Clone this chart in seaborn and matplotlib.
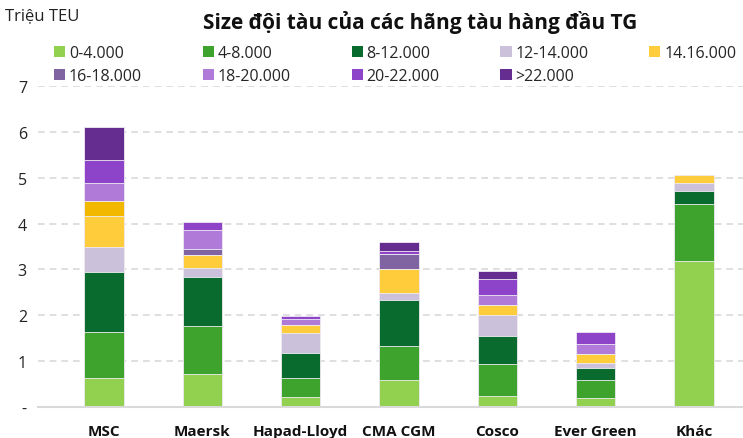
import matplotlib
matplotlib.use("Agg")
import matplotlib.pyplot as plt
import seaborn as sns
import pandas as pd
import numpy as np
from matplotlib.patches import Patch

companies = ["MSC", "Maersk", "Hapad-Lloyd", "CMA CGM", "Cosco", "Ever Green", "Khác"]
series_names = ["0-4.000", "4-8.000", "8-12.000", "12-14.000", "14.16.000",
                "16-18.000", "18-20.000", "20-22.000", ">22.000"]

s_0_4 = [0.63, 0.72, 0.22, 0.59, 0.24, 0.19, 3.18]
s_4_8 = [1.01, 1.04, 0.41, 0.74, 0.70, 0.40, 1.24]
s_8_12 = [1.31, 1.08, 0.55, 1.00, 0.61, 0.25, 0.28]
s_12_14 = [0.55, 0.19, 0.43, 0.16, 0.46, 0.12, 0.18]
s_14_16 = [0.67, 0.29, 0.18, 0.53, 0.21, 0.20, 0.17]
s_14_16_hl = [0.32, 0.0, 0.0, 0.0, 0.0, 0.0, 0.0]  # highlighted part (MSC)
s_16_18 = [0.0, 0.13, 0.0, 0.31, 0.0, 0.0, 0.0]
s_18_20 = [0.39, 0.40, 0.13, 0.0, 0.22, 0.21, 0.0]
s_20_22 = [0.51, 0.19, 0.06, 0.07, 0.35, 0.27, 0.0]
s_22p = [0.71, 0.0, 0.0, 0.19, 0.17, 0.0, 0.0]

stack = [
    ("0-4.000", s_0_4, "#92D050"),
    ("4-8.000", s_4_8, "#3EA32C"),
    ("8-12.000", s_8_12, "#0A6B2E"),
    ("12-14.000", s_12_14, "#CCC1DA"),
    ("14.16.000", s_14_16, "#FFCD3C"),
    ("_hl", s_14_16_hl, "#F2B800"),
    ("16-18.000", s_16_18, "#8064A2"),
    ("18-20.000", s_18_20, "#B07AD8"),
    ("20-22.000", s_20_22, "#8E44C8"),
    (">22.000", s_22p, "#662D91"),
]

sns.set_theme(style="white")
plt.rcParams["font.family"] = ["Open Sans", "DejaVu Sans"]

fig = plt.figure(figsize=(7.43, 4.39), dpi=100)
ax = fig.add_axes([38 / 743, 31 / 439, 1 - 38 / 743, (408 - 87) / 439])

cum = np.zeros(len(companies))
cums = []
for name, vals, col in stack:
    cum = cum + np.array(vals)
    cums.append((name, cum.copy(), col))

# draw from top cumulative down so lower segments overlay
for name, cvals, col in reversed(cums):
    df = pd.DataFrame({"company": companies, "value": cvals})
    sns.barplot(data=df, x="company", y="value", color=col, ax=ax,
                width=0.4, saturation=1, edgecolor="#F0ECF4", linewidth=0.6,
                zorder=3)

ax.set_ylim(0, 7)
ax.set_xlim(-0.67, 6.5)
ax.set_yticks(range(0, 8))
ax.set_yticklabels(["-"] + [str(i) for i in range(1, 8)], fontsize=11.5, color="#222222")
ax.set_xticks(range(len(companies)))
ax.set_xticklabels(companies, fontsize=11, fontweight="bold", color="#111111")
ax.tick_params(axis="y", length=0, pad=8)
ax.tick_params(axis="x", length=0, pad=12)
ax.set_xlabel("")
ax.set_ylabel("")
for sp in ["top", "right", "left"]:
    ax.spines[sp].set_visible(False)
ax.spines["bottom"].set_color("#D9D9D9")
ax.spines["bottom"].set_linewidth(1.5)
ax.spines["bottom"].set_zorder(4)
for y in range(1, 8):
    ax.axhline(y, color="#D9D9D9", linestyle=(0, (4, 3)), linewidth=1.2, zorder=1)

fig.text(5 / 743, 1 - 16 / 439, "Triệu TEU", fontsize=12, va="center", ha="left", color="#222222")
fig.text(420 / 743, 1 - 22 / 439, "Size đội tàu của các hãng tàu hàng đầu TG",
         fontsize=15, fontweight="bold", va="center", ha="center", color="#111111")

handles = [Patch(facecolor=col, edgecolor="none", label=name)
           for name, vals, col in stack if not name.startswith("_")]
order = [0, 5, 1, 6, 2, 7, 3, 8, 4]
handles = [handles[i] for i in order]
fig.legend(handles=handles, ncol=5, loc="upper left",
           bbox_to_anchor=(54 / 743, 1 - 46 / 439), frameon=False,
           fontsize=11.5, handlelength=0.69, handleheight=0.69,
           handletextpad=0.25, columnspacing=3.8, labelspacing=0.45,
           borderaxespad=0, borderpad=0)

fig.savefig("out.png", dpi=100)
